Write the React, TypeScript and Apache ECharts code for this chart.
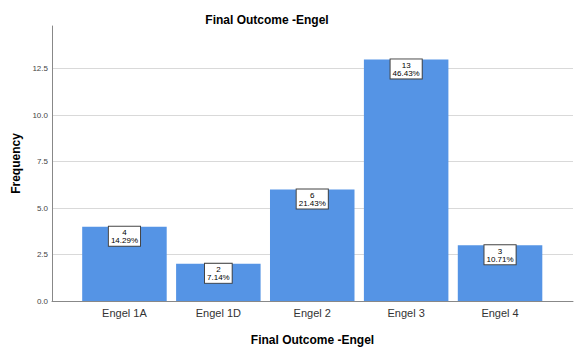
import React, { useEffect, useRef } from "react";
import * as echarts from "echarts";

const categories = ["Engel 1A", "Engel 1D", "Engel 2", "Engel 3", "Engel 4"];
const counts = [4, 2, 6, 13, 3];
const percents = ["14.29%", "7.14%", "21.43%", "46.43%", "10.71%"];
const yTicks = [0, 2.5, 5, 7.5, 10, 12.5];

const FONT = "Liberation Sans, Arial, sans-serif";

export default function App() {
  const ref = useRef<HTMLDivElement>(null);
  useEffect(() => {
    document.body.style.margin = "0";
    if (!ref.current) return;
    const chart = echarts.init(ref.current, null, { renderer: "svg" });
    const yMax = 14.8;
    chart.setOption({
      animation: false,
      backgroundColor: "#ffffff",
      title: {
        text: "Final Outcome -Engel",
        left: 262,
        top: 9,
        textAlign: "center",
        textStyle: { fontFamily: FONT, fontSize: 12, fontWeight: "bold", color: "#000" },
      },
      grid: [
        { left: 52, right: 8, top: 26, bottom: 50 },
        { left: 77.5, right: 34, top: 26, bottom: 50 },
      ],
      xAxis: [
        {
          gridIndex: 0,
          type: "category",
          data: [""],
          axisLine: { show: true, lineStyle: { color: "#888", width: 1 } },
          axisTick: { show: false },
          axisLabel: { show: false },
          name: "Final Outcome -Engel",
          nameLocation: "middle",
          nameGap: 33,
          nameTextStyle: { fontFamily: FONT, fontSize: 12, fontWeight: "bold", color: "#000" },
        },
        {
          gridIndex: 1,
          type: "category",
          data: categories,
          axisLine: { show: false },
          axisTick: { show: false },
          axisLabel: { fontFamily: FONT, fontSize: 11, color: "#333", margin: 6 },
        },
      ],
      yAxis: [
        {
          gridIndex: 0,
          type: "value",
          min: 0,
          max: yMax,
          interval: 2.5,
          axisLine: { show: true, lineStyle: { color: "#888", width: 1 } },
          axisTick: { show: false },
          axisLabel: {
            fontFamily: FONT,
            fontSize: 8,
            color: "#444",
            margin: 4,
            showMaxLabel: false,
            formatter: (v: number) => (yTicks.some((t) => Math.abs(t - v) < 1e-6) ? v.toFixed(1) : ""),
          },
          splitLine: { show: true, showMinLine: false, showMaxLine: false, lineStyle: { color: "#d9d9d9", width: 1 } },
          name: "Frequency",
          nameLocation: "middle",
          nameGap: 28,
          nameRotate: 90,
          nameTextStyle: { fontFamily: FONT, fontSize: 12, fontWeight: "bold", color: "#000" },
        },
        {
          gridIndex: 1,
          type: "value",
          min: 0,
          max: yMax,
          show: false,
        },
      ],
      series: [
        {
          type: "bar",
          xAxisIndex: 1,
          yAxisIndex: 1,
          data: counts,
          barCategoryGap: "10%",
          itemStyle: { color: "#5594e5" },
          label: {
            show: true,
            position: "insideTop",
            distance: 0,
            formatter: (p: any) => `${counts[p.dataIndex]}\n${percents[p.dataIndex]}`,
            fontFamily: FONT,
            fontSize: 8,
            lineHeight: 8,
            color: "#000",
            backgroundColor: "#ffffff",
            borderColor: "#444",
            borderWidth: 1,
            padding: [2, 2, 1, 2],
            align: "center",
          },
        },
      ],
    });
    return () => chart.dispose();
  }, []);
  return <div ref={ref} style={{ width: 581, height: 351 }} />;
}
